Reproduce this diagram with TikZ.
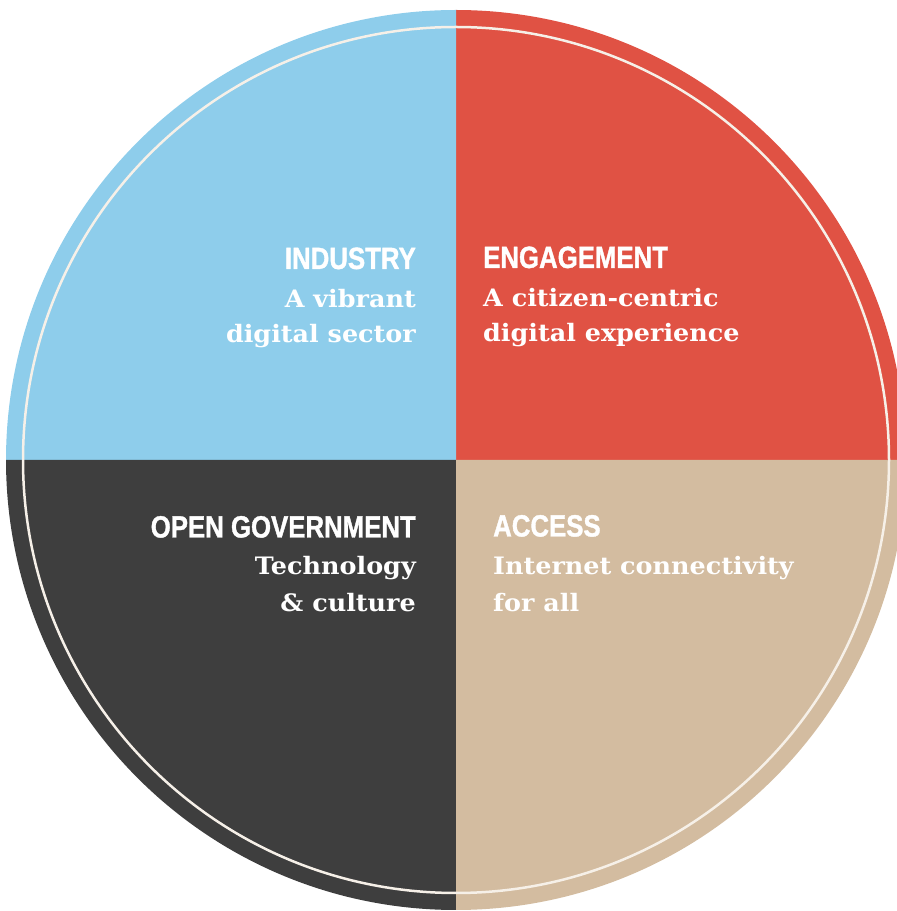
\documentclass[tikz,border=0pt]{standalone}
\usepackage{fontspec}
\newfontfamily\headfont{Liberation Sans Bold}[FakeStretch=0.84,FakeBold=1.2]
\newfontfamily\bodyfont{DejaVu Serif Bold}[FakeStretch=1.06]
\definecolor{qblue}{RGB}{142,205,235}
\definecolor{qred}{RGB}{224,82,68}
\definecolor{qdark}{RGB}{62,62,62}
\definecolor{qbeige}{RGB}{211,188,160}
\definecolor{ring}{RGB}{246,240,232}
\tikzset{
  head/.style={text=white, inner sep=0pt, font=\headfont\fontsize{30.7}{36}\selectfont},
  body/.style={text=white, inner sep=0pt, font=\bodyfont\fontsize{24}{36}\selectfont},
  lefttxt/.style={anchor=base east},
  righttxt/.style={anchor=base west}
}
\begin{document}
\begin{tikzpicture}[x=1pt,y=1pt]
\useasboundingbox (0,0) rectangle (897,911);
\clip (0,0) rectangle (897,911);
\coordinate (c) at (456,451);
\fill[qred] (c) -- ++(0:450) arc[start angle=0, end angle=90, radius=450] -- cycle;
\fill[qblue] (c) -- ++(90:450) arc[start angle=90, end angle=180, radius=450] -- cycle;
\fill[qdark] (c) -- ++(180:450) arc[start angle=180, end angle=270, radius=450] -- cycle;
\fill[qbeige] (c) -- ++(270:450) arc[start angle=270, end angle=360, radius=450] -- cycle;
\draw[ring, line width=2.5pt] (c) circle[radius=433];
% INDUSTRY
\node[head,lefttxt] (ind1) at (416,642) {INDUSTRY};
\node[body,lefttxt] (ind2) at (416,603) {A vibrant};
\node[body,lefttxt] (ind3) at (416,568) {digital sector};
% ENGAGEMENT
\node[head,righttxt] (eng1) at (483,643) {ENGAGEMENT};
\node[body,righttxt] (eng2) at (483,604.5) {A citizen-centric};
\node[body,righttxt] (eng3) at (483,569) {digital experience};
% OPEN GOVERNMENT
\node[head,lefttxt] (gov1) at (416,373.5) {OPEN GOVERNMENT};
\node[body,lefttxt] (gov2) at (416,336) {Technology};
\node[body,lefttxt] (gov3) at (416,299.5) {\& culture};
% ACCESS
\node[head,righttxt] (acc1) at (493,374.5) {ACCESS};
\node[body,righttxt] (acc2) at (493,336) {Internet connectivity};
\node[body,righttxt] (acc3) at (493,299.5) {for all};
\end{tikzpicture}
\end{document}
